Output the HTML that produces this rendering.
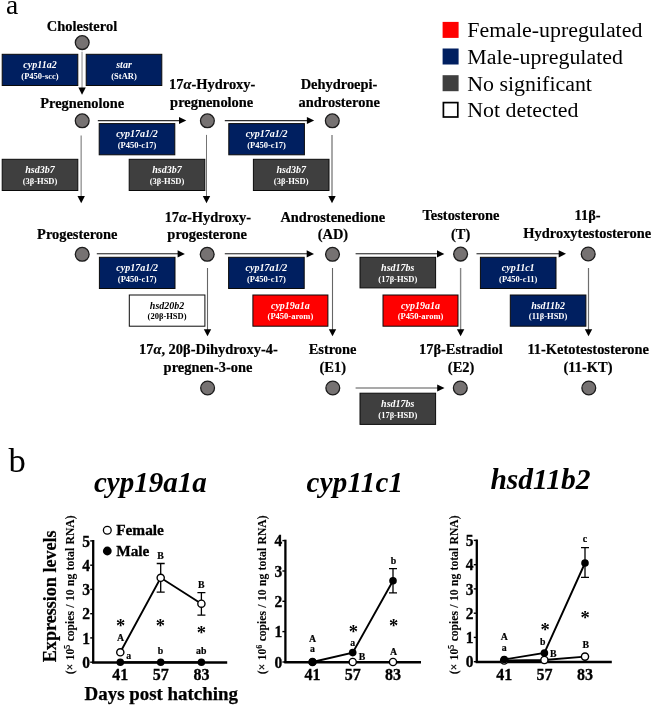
<!DOCTYPE html>
<html><head><meta charset="utf-8"><title>Steroidogenic pathway</title>
<style>
html,body{margin:0;padding:0;background:#fff;}
svg{display:block;}
text{font-family:"Liberation Serif","Times New Roman",serif;fill:#000;}
.cn{font-weight:bold;font-size:14.45px;text-anchor:middle;stroke:#000;stroke-width:0.2px;}
.g{font-weight:bold;font-style:italic;font-size:10px;text-anchor:middle;}
.p{font-weight:bold;font-size:8.5px;text-anchor:middle;}
.w{fill:#fff;}
.lg{font-size:21.9px;}
.tt{font-weight:bold;font-style:italic;font-size:29px;}
.tk{font-weight:bold;font-size:15.5px;stroke:#000;stroke-width:0.3px;}
.sm{font-weight:bold;font-size:9.8px;text-anchor:middle;stroke:#000;stroke-width:0.2px;}
.st{font-size:18.5px;font-weight:bold;text-anchor:middle;}
.ax{font-weight:bold;font-size:18.9px;stroke:#000;stroke-width:0.25px;}
.ay{font-weight:bold;font-size:18.1px;stroke:#000;stroke-width:0.2px;}
.ys{font-weight:bold;font-size:11.6px;word-spacing:0.5px;stroke:#000;stroke-width:0.1px;}
.lt{font-weight:bold;font-size:15.35px;stroke:#000;stroke-width:0.3px;}
</style></head><body>
<svg width="652" height="706" viewBox="0 0 652 706">
<rect x="0" y="0" width="652" height="706" fill="#fff"/>

<text x="6.1" y="14.1" style="font-size:27.5px">a</text>
<text x="8.6" y="472.4" style="font-size:34.6px">b</text>
<text class="cn" x="82" y="30.7">Cholesterol</text>
<circle cx="82.2" cy="42.6" r="6.9" fill="#767272" stroke="#1c1c1c" stroke-width="1.3"/>
<line x1="82.05" y1="51.8" x2="82.05" y2="88.7" stroke="#bababa" stroke-width="1.7"/>
<polygon points="78.35,87.60000000000001 85.75,87.60000000000001 82.05,94.7" fill="#000"/>
<rect x="2.2" y="54.3" width="75.6" height="31.2" fill="#001f60" stroke="#0a0a0a" stroke-width="1"/>
<text class="g w" x="40.0" y="67.89999999999999">cyp11a2</text>
<text class="p w" x="40.0" y="78.6">(P450-scc)</text>
<rect x="86.2" y="54.3" width="75.6" height="31.2" fill="#001f60" stroke="#0a0a0a" stroke-width="1"/>
<text class="g w" x="124.0" y="67.89999999999999">star</text>
<text class="p w" x="124.0" y="78.6">(StAR)</text>
<text class="cn" x="82.2" y="107.8">Pregnenolone</text>
<circle cx="82.2" cy="120.8" r="6.9" fill="#767272" stroke="#1c1c1c" stroke-width="1.3"/>
<line x1="97.8" y1="121.5" x2="180.3" y2="121.5" stroke="#c9c9c9" stroke-width="1"/>
<line x1="97.8" y1="120.5" x2="180.3" y2="120.5" stroke="#2e2e2e" stroke-width="1"/>
<polygon points="179.0,116.9 179.0,124.1 186.3,120.5" fill="#000"/>
<rect x="99.2" y="123.6" width="75.6" height="31.2" fill="#001f60" stroke="#0a0a0a" stroke-width="1"/>
<text class="g w" x="137.0" y="137.2">cyp17a1/2</text>
<text class="p w" x="137.0" y="147.9">(P450-c17)</text>
<line x1="81.2" y1="135.6" x2="81.2" y2="197.2" stroke="#a4a4a4" stroke-width="1.6"/>
<polygon points="77.5,196.1 84.9,196.1 81.2,203.2" fill="#000"/>
<rect x="2.2" y="159.3" width="75.6" height="31.2" fill="#3f3f3f" stroke="#0a0a0a" stroke-width="1"/>
<text class="g w" x="40.0" y="172.9">hsd3b7</text>
<text class="p w" x="40.0" y="183.60000000000002">(3β-HSD)</text>
<text class="cn" x="212.2" y="88.8">17<tspan font-style="italic">α</tspan>-Hydroxy-</text>
<text class="cn" x="211.7" y="106.5">pregnenolone</text>
<circle cx="207.4" cy="120.8" r="6.9" fill="#767272" stroke="#1c1c1c" stroke-width="1.3"/>
<line x1="224.8" y1="121.5" x2="308.2" y2="121.5" stroke="#c9c9c9" stroke-width="1"/>
<line x1="224.8" y1="120.5" x2="308.2" y2="120.5" stroke="#2e2e2e" stroke-width="1"/>
<polygon points="306.9,116.9 306.9,124.1 314.2,120.5" fill="#000"/>
<rect x="228.8" y="123.6" width="75.6" height="31.2" fill="#001f60" stroke="#0a0a0a" stroke-width="1"/>
<text class="g w" x="266.6" y="137.2">cyp17a1/2</text>
<text class="p w" x="266.6" y="147.9">(P450-c17)</text>
<line x1="206.5" y1="134.9" x2="206.5" y2="197.2" stroke="#747474" stroke-width="1.0"/>
<polygon points="202.8,196.1 210.2,196.1 206.5,203.2" fill="#000"/>
<rect x="129.2" y="159.3" width="75.6" height="31.2" fill="#3f3f3f" stroke="#0a0a0a" stroke-width="1"/>
<text class="g w" x="167.0" y="172.9">hsd3b7</text>
<text class="p w" x="167.0" y="183.60000000000002">(3β-HSD)</text>
<text class="cn" x="339" y="88.8">Dehydroepi-</text>
<text class="cn" x="339.2" y="106.5">androsterone</text>
<circle cx="332.3" cy="120.8" r="6.9" fill="#767272" stroke="#1c1c1c" stroke-width="1.3"/>
<line x1="332.0" y1="134.9" x2="332.0" y2="197.2" stroke="#a8a8a8" stroke-width="2.0"/>
<polygon points="328.3,196.1 335.7,196.1 332.0,203.2" fill="#000"/>
<rect x="253.4" y="159.3" width="75.6" height="31.2" fill="#3f3f3f" stroke="#0a0a0a" stroke-width="1"/>
<text class="g w" x="291.2" y="172.9">hsd3b7</text>
<text class="p w" x="291.2" y="183.60000000000002">(3β-HSD)</text>
<text class="cn" x="77.3" y="239">Progesterone</text>
<circle cx="82.2" cy="254.3" r="6.9" fill="#767272" stroke="#1c1c1c" stroke-width="1.3"/>
<line x1="96.8" y1="254.5" x2="178.9" y2="254.5" stroke="#c0c0c0" stroke-width="1"/>
<line x1="96.8" y1="253.5" x2="178.9" y2="253.5" stroke="#555" stroke-width="1"/>
<polygon points="177.6,250.3 177.6,257.5 184.9,253.9" fill="#000"/>
<rect x="99.4" y="257.3" width="75.6" height="31.2" fill="#001f60" stroke="#0a0a0a" stroke-width="1"/>
<text class="g w" x="137.2" y="270.90000000000003">cyp17a1/2</text>
<text class="p w" x="137.2" y="281.6">(P450-c17)</text>
<text class="cn" x="207.8" y="221.7">17<tspan font-style="italic">α</tspan>-Hydroxy-</text>
<text class="cn" x="207.2" y="239">progesterone</text>
<circle cx="207.2" cy="254.3" r="6.9" fill="#767272" stroke="#1c1c1c" stroke-width="1.3"/>
<line x1="224.8" y1="254.5" x2="308" y2="254.5" stroke="#c0c0c0" stroke-width="1"/>
<line x1="224.8" y1="253.5" x2="308" y2="253.5" stroke="#555" stroke-width="1"/>
<polygon points="306.7,250.3 306.7,257.5 314,253.9" fill="#000"/>
<rect x="228.6" y="257.3" width="75.6" height="31.2" fill="#001f60" stroke="#0a0a0a" stroke-width="1"/>
<text class="g w" x="266.4" y="270.90000000000003">cyp17a1/2</text>
<text class="p w" x="266.4" y="281.6">(P450-c17)</text>
<line x1="207.5" y1="268" x2="207.5" y2="330.3" stroke="#666" stroke-width="1.1"/>
<polygon points="203.8,329.2 211.2,329.2 207.5,336.3" fill="#000"/>
<rect x="129.3" y="295" width="75.6" height="31.2" fill="#ffffff" stroke="#0a0a0a" stroke-width="1"/>
<text class="g" x="167.10000000000002" y="308.6">hsd20b2</text>
<text class="p" x="167.10000000000002" y="319.3">(20β-HSD)</text>
<text class="cn" x="332.8" y="221.7">Androstenedione</text>
<text class="cn" x="332.9" y="239">(AD)</text>
<circle cx="332.5" cy="254.3" r="6.9" fill="#767272" stroke="#1c1c1c" stroke-width="1.3"/>
<line x1="355.6" y1="254.5" x2="438.3" y2="254.5" stroke="#c0c0c0" stroke-width="1"/>
<line x1="355.6" y1="253.5" x2="438.3" y2="253.5" stroke="#555" stroke-width="1"/>
<polygon points="437.0,250.3 437.0,257.5 444.3,253.9" fill="#000"/>
<rect x="360" y="257.3" width="75.6" height="30.599999999999998" fill="#3f3f3f" stroke="#0a0a0a" stroke-width="1"/>
<text class="g w" x="397.8" y="270.90000000000003">hsd17bs</text>
<text class="p w" x="397.8" y="281.6">(17β-HSD)</text>
<line x1="332.5" y1="268" x2="332.5" y2="330.3" stroke="#666" stroke-width="1.1"/>
<polygon points="328.8,329.2 336.2,329.2 332.5,336.3" fill="#000"/>
<rect x="252.9" y="295" width="75.0" height="31.2" fill="#ff0000" stroke="#0a0a0a" stroke-width="1"/>
<text class="g w" x="290.4" y="308.6">cyp19a1a</text>
<text class="p w" x="290.4" y="319.3">(P450-arom)</text>
<text class="cn" x="461" y="220.4">Testosterone</text>
<text class="cn" x="460.6" y="238.5">(T)</text>
<circle cx="460.6" cy="254.10000000000002" r="6.9" fill="#767272" stroke="#1c1c1c" stroke-width="1.3"/>
<line x1="476.5" y1="254.5" x2="560" y2="254.5" stroke="#c0c0c0" stroke-width="1"/>
<line x1="476.5" y1="253.5" x2="560" y2="253.5" stroke="#555" stroke-width="1"/>
<polygon points="558.7,250.20000000000002 558.7,257.40000000000003 566,253.8" fill="#000"/>
<rect x="480.4" y="257.3" width="75.6" height="31.2" fill="#001f60" stroke="#0a0a0a" stroke-width="1"/>
<text class="g w" x="518.1999999999999" y="270.90000000000003">cyp11c1</text>
<text class="p w" x="518.1999999999999" y="281.6">(P450-c11)</text>
<line x1="460.6" y1="268" x2="460.6" y2="330.3" stroke="#858585" stroke-width="1.4"/>
<polygon points="456.90000000000003,329.2 464.3,329.2 460.6,336.3" fill="#000"/>
<rect x="383" y="295" width="75.0" height="31.2" fill="#ff0000" stroke="#0a0a0a" stroke-width="1"/>
<text class="g w" x="420.5" y="308.6">cyp19a1a</text>
<text class="p w" x="420.5" y="319.3">(P450-arom)</text>
<text class="cn" x="587.6" y="220.1">11β-</text>
<text class="cn" x="587.2" y="238.0">Hydroxytestosterone</text>
<circle cx="588.2" cy="254.0" r="6.9" fill="#767272" stroke="#1c1c1c" stroke-width="1.3"/>
<line x1="588.5" y1="268" x2="588.5" y2="330.3" stroke="#6e6e6e" stroke-width="1.2"/>
<polygon points="584.8,329.2 592.2,329.2 588.5,336.3" fill="#000"/>
<rect x="510.3" y="295" width="75.6" height="31.2" fill="#001f60" stroke="#0a0a0a" stroke-width="1"/>
<text class="g w" x="548.1" y="308.6">hsd11b2</text>
<text class="p w" x="548.1" y="319.3">(11β-HSD)</text>
<text class="cn" x="208.4" y="354.4">17<tspan font-style="italic">α</tspan>, 20β-Dihydroxy-4-</text>
<text class="cn" x="208" y="371.9">pregnen-3-one</text>
<circle cx="207.6" cy="388" r="6.9" fill="#767272" stroke="#1c1c1c" stroke-width="1.3"/>
<text class="cn" x="332.6" y="354.4">Estrone</text>
<text class="cn" x="332.8" y="372">(E1)</text>
<circle cx="332.8" cy="388" r="6.9" fill="#767272" stroke="#1c1c1c" stroke-width="1.3"/>
<line x1="355.6" y1="388.0" x2="438.5" y2="388.0" stroke="#a9a9a9" stroke-width="2"/>
<polygon points="437.2,384.4 437.2,391.6 444.5,388.0" fill="#000"/>
<rect x="360" y="393.2" width="75.6" height="31.2" fill="#3f3f3f" stroke="#0a0a0a" stroke-width="1"/>
<text class="g w" x="397.8" y="406.8">hsd17bs</text>
<text class="p w" x="397.8" y="417.5">(17β-HSD)</text>
<text class="cn" x="460.9" y="354.4">17β-Estradiol</text>
<text class="cn" x="461.1" y="372">(E2)</text>
<circle cx="460.3" cy="388" r="6.9" fill="#767272" stroke="#1c1c1c" stroke-width="1.3"/>
<text class="cn" x="588.2" y="354.4">11-Ketotestosterone</text>
<text class="cn" x="588" y="372">(11-KT)</text>
<circle cx="588.8" cy="388" r="6.9" fill="#767272" stroke="#1c1c1c" stroke-width="1.3"/>
<rect x="442.6" y="21.9" width="16" height="16" fill="#ff0000"/>
<text class="lg" x="467.3" y="37.2">Female-upregulated</text>
<rect x="442.6" y="48.5" width="16" height="16" fill="#001f60"/>
<text class="lg" x="467.3" y="63.8">Male-upregulated</text>
<rect x="442.6" y="75.2" width="16" height="16" fill="#3f3f3f"/>
<text class="lg" x="467.3" y="90.5">No significant</text>
<rect x="443.4" y="102.6" width="14.4" height="14.4" fill="#ffffff" stroke="#000" stroke-width="1.7"/>
<text class="lg" x="467.3" y="117.1">Not detected</text>
<text class="tt" x="94" y="491.5">cyp19a1a</text>
<text class="tt" x="306.6" y="491.6" style="letter-spacing:0.25px">cyp11c1</text>
<text class="tt" x="490.4" y="489.4" style="font-size:29.5px">hsd11b2</text>
<path d="M160.7,563.5V592.2M156.7,563.5H164.7M156.7,592.2H164.7" stroke="#000" stroke-width="1.3" fill="none"/>
<path d="M201.4,592.6V615.1M197.4,592.6H205.4M197.4,615.1H205.4" stroke="#000" stroke-width="1.3" fill="none"/>
<line x1="93.2" y1="540.0" x2="93.2" y2="663.2" stroke="#000" stroke-width="2.3"/>
<line x1="92.10000000000001" y1="662.5" x2="227.2" y2="662.5" stroke="#000" stroke-width="2.6"/>
<line x1="90.2" y1="662.2" x2="93.2" y2="662.2" stroke="#000" stroke-width="1.4"/>
<text class="tk" transform="translate(90.0,667.8) scale(1,1.09)" text-anchor="end">0</text>
<line x1="90.2" y1="637.9" x2="93.2" y2="637.9" stroke="#000" stroke-width="1.4"/>
<text class="tk" transform="translate(90.0,643.5) scale(1,1.09)" text-anchor="end">1</text>
<line x1="90.2" y1="613.7" x2="93.2" y2="613.7" stroke="#000" stroke-width="1.4"/>
<text class="tk" transform="translate(90.0,619.3) scale(1,1.09)" text-anchor="end">2</text>
<line x1="90.2" y1="589.4" x2="93.2" y2="589.4" stroke="#000" stroke-width="1.4"/>
<text class="tk" transform="translate(90.0,595.0) scale(1,1.09)" text-anchor="end">3</text>
<line x1="90.2" y1="565.2" x2="93.2" y2="565.2" stroke="#000" stroke-width="1.4"/>
<text class="tk" transform="translate(90.0,570.8) scale(1,1.09)" text-anchor="end">4</text>
<line x1="90.2" y1="540.9" x2="93.2" y2="540.9" stroke="#000" stroke-width="1.4"/>
<text class="tk" transform="translate(90.0,546.5) scale(1,1.09)" text-anchor="end">5</text>
<text class="tk" transform="translate(120.3,679.6) scale(1,1.08)" text-anchor="middle" style="font-size:16px">41</text>
<text class="tk" transform="translate(160.7,679.6) scale(1,1.08)" text-anchor="middle" style="font-size:16px">57</text>
<text class="tk" transform="translate(201.4,679.6) scale(1,1.08)" text-anchor="middle" style="font-size:16px">83</text>
<polyline points="120.3,662.2 160.7,662.2 201.4,662.2" fill="none" stroke="#000" stroke-width="1.9"/>
<polyline points="120.3,652.3 160.7,577.8 201.4,603.7" fill="none" stroke="#000" stroke-width="1.9"/>
<circle cx="120.3" cy="662.2" r="3.8" fill="#000"/>
<circle cx="160.7" cy="662.2" r="3.8" fill="#000"/>
<circle cx="201.4" cy="662.2" r="3.8" fill="#000"/>
<circle cx="120.3" cy="652.3" r="3.6" fill="#fff" stroke="#000" stroke-width="1.4"/>
<circle cx="160.7" cy="577.8" r="3.6" fill="#fff" stroke="#000" stroke-width="1.4"/>
<circle cx="201.4" cy="603.7" r="3.6" fill="#fff" stroke="#000" stroke-width="1.4"/>
<text class="sm" x="160.4" y="558.6">B</text>
<text class="sm" x="201.3" y="587.6">B</text>
<text class="sm" x="120.5" y="640.6">A</text>
<text class="sm" x="128.6" y="658.6">a</text>
<text class="sm" x="160.4" y="654.2">b</text>
<text class="sm" x="201.3" y="654.2">ab</text>
<text class="st" x="120.5" y="632.4">*</text>
<text class="st" x="160.4" y="632.4">*</text>
<text class="st" x="201.3" y="639.2">*</text>
<circle cx="107.3" cy="530.3" r="3.9" fill="#fff" stroke="#000" stroke-width="1.3"/>
<text class="lt" x="116.2" y="535.2">Female</text>
<circle cx="107.3" cy="551.0" r="4.4" fill="#000"/>
<text class="lt" x="116.2" y="555.8">Male</text>
<text class="ax" x="84.6" y="700.0">Days post hatching</text>
<text class="ay" transform="translate(56.3,662.2) rotate(-90)">Expression levels</text>
<text class="ys" transform="translate(73.8,674.2) rotate(-90)">(× 10<tspan dy="-4" style="font-size:8px">5</tspan><tspan dy="4"> copies / 10 ng total RNA)</tspan></text>
<path d="M393.0,568.6V592.8M389.0,568.6H397.0M389.0,592.8H397.0" stroke="#000" stroke-width="1.3" fill="none"/>
<line x1="285.4" y1="539.7" x2="285.4" y2="663.0" stroke="#000" stroke-width="2.3"/>
<line x1="284.29999999999995" y1="662.3" x2="421" y2="662.3" stroke="#000" stroke-width="2.6"/>
<line x1="282.4" y1="662.0" x2="285.4" y2="662.0" stroke="#000" stroke-width="1.4"/>
<text class="tk" transform="translate(282.2,667.6) scale(1,1.09)" text-anchor="end">0</text>
<line x1="282.4" y1="631.6" x2="285.4" y2="631.6" stroke="#000" stroke-width="1.4"/>
<text class="tk" transform="translate(282.2,637.2) scale(1,1.09)" text-anchor="end">1</text>
<line x1="282.4" y1="601.3" x2="285.4" y2="601.3" stroke="#000" stroke-width="1.4"/>
<text class="tk" transform="translate(282.2,606.9) scale(1,1.09)" text-anchor="end">2</text>
<line x1="282.4" y1="571.0" x2="285.4" y2="571.0" stroke="#000" stroke-width="1.4"/>
<text class="tk" transform="translate(282.2,576.6) scale(1,1.09)" text-anchor="end">3</text>
<line x1="282.4" y1="540.6" x2="285.4" y2="540.6" stroke="#000" stroke-width="1.4"/>
<text class="tk" transform="translate(282.2,546.2) scale(1,1.09)" text-anchor="end">4</text>
<text class="tk" transform="translate(312.5,679.6) scale(1,1.08)" text-anchor="middle" style="font-size:16px">41</text>
<text class="tk" transform="translate(352.7,679.6) scale(1,1.08)" text-anchor="middle" style="font-size:16px">57</text>
<text class="tk" transform="translate(393.0,679.6) scale(1,1.08)" text-anchor="middle" style="font-size:16px">83</text>
<polyline points="312.5,662.0 352.7,662.0 393.0,662.0" fill="none" stroke="#000" stroke-width="1.9"/>
<polyline points="312.5,662.0 352.7,652.6 393.0,580.7" fill="none" stroke="#000" stroke-width="1.9"/>
<circle cx="312.5" cy="662.0" r="3.6" fill="#fff" stroke="#000" stroke-width="1.4"/>
<circle cx="352.7" cy="662.0" r="3.6" fill="#fff" stroke="#000" stroke-width="1.4"/>
<circle cx="393.0" cy="662.0" r="3.6" fill="#fff" stroke="#000" stroke-width="1.4"/>
<circle cx="312.5" cy="662.0" r="3.8" fill="#000"/>
<circle cx="352.7" cy="652.6" r="3.8" fill="#000"/>
<circle cx="393.0" cy="580.7" r="3.8" fill="#000"/>
<text class="sm" x="393.6" y="564.4">b</text>
<text class="sm" x="312.5" y="642.2">A</text>
<text class="sm" x="312.5" y="652.3">a</text>
<text class="sm" x="352.7" y="645.9">a</text>
<text class="sm" x="361.9" y="660">B</text>
<text class="sm" x="393.6" y="655.2">A</text>
<text class="st" x="353.4" y="637.5">*</text>
<text class="st" x="393.6" y="632.0">*</text>
<text class="ys" transform="translate(266.0,674.2) rotate(-90)">(× 10<tspan dy="-4" style="font-size:8px">6</tspan><tspan dy="4"> copies / 10 ng total RNA)</tspan></text>
<path d="M585.0,547.7V577.3M581.0,547.7H589.0M581.0,577.3H589.0" stroke="#000" stroke-width="1.3" fill="none"/>
<line x1="476.8" y1="539.5" x2="476.8" y2="662.7" stroke="#000" stroke-width="2.3"/>
<line x1="475.7" y1="662.0" x2="611.8" y2="662.0" stroke="#000" stroke-width="2.6"/>
<line x1="473.8" y1="661.7" x2="476.8" y2="661.7" stroke="#000" stroke-width="1.4"/>
<text class="tk" transform="translate(473.6,667.3) scale(1,1.09)" text-anchor="end">0</text>
<line x1="473.8" y1="637.4" x2="476.8" y2="637.4" stroke="#000" stroke-width="1.4"/>
<text class="tk" transform="translate(473.6,643.0) scale(1,1.09)" text-anchor="end">1</text>
<line x1="473.8" y1="613.2" x2="476.8" y2="613.2" stroke="#000" stroke-width="1.4"/>
<text class="tk" transform="translate(473.6,618.8) scale(1,1.09)" text-anchor="end">2</text>
<line x1="473.8" y1="588.9" x2="476.8" y2="588.9" stroke="#000" stroke-width="1.4"/>
<text class="tk" transform="translate(473.6,594.5) scale(1,1.09)" text-anchor="end">3</text>
<line x1="473.8" y1="564.7" x2="476.8" y2="564.7" stroke="#000" stroke-width="1.4"/>
<text class="tk" transform="translate(473.6,570.3) scale(1,1.09)" text-anchor="end">4</text>
<line x1="473.8" y1="540.4" x2="476.8" y2="540.4" stroke="#000" stroke-width="1.4"/>
<text class="tk" transform="translate(473.6,546.0) scale(1,1.09)" text-anchor="end">5</text>
<text class="tk" transform="translate(504.2,679.6) scale(1,1.08)" text-anchor="middle" style="font-size:16px">41</text>
<text class="tk" transform="translate(544.4,679.6) scale(1,1.08)" text-anchor="middle" style="font-size:16px">57</text>
<text class="tk" transform="translate(585.0,679.6) scale(1,1.08)" text-anchor="middle" style="font-size:16px">83</text>
<polyline points="504.2,660.5 544.4,660.0 585.0,656.6" fill="none" stroke="#000" stroke-width="1.9"/>
<polyline points="504.2,659.5 544.4,653.0 585.0,563.0" fill="none" stroke="#000" stroke-width="1.9"/>
<circle cx="504.2" cy="660.5" r="3.6" fill="#fff" stroke="#000" stroke-width="1.4"/>
<circle cx="544.4" cy="660.0" r="3.6" fill="#fff" stroke="#000" stroke-width="1.4"/>
<circle cx="585.0" cy="656.6" r="3.6" fill="#fff" stroke="#000" stroke-width="1.4"/>
<circle cx="504.2" cy="659.5" r="3.8" fill="#000"/>
<circle cx="544.4" cy="653.0" r="3.8" fill="#000"/>
<circle cx="585.0" cy="563.0" r="3.8" fill="#000"/>
<text class="sm" x="585" y="542.3">c</text>
<text class="sm" x="504.2" y="640.4">A</text>
<text class="sm" x="504.2" y="651">a</text>
<text class="sm" x="542.8" y="644.9">b</text>
<text class="sm" x="553.3" y="656.8">B</text>
<text class="sm" x="585.8" y="648.1">B</text>
<text class="st" x="545" y="635.9">*</text>
<text class="st" x="585" y="624.0">*</text>
<text class="ys" transform="translate(458.4,674.2) rotate(-90)">(× 10<tspan dy="-4" style="font-size:8px">5</tspan><tspan dy="4"> copies / 10 ng total RNA)</tspan></text>
</svg></body></html>
